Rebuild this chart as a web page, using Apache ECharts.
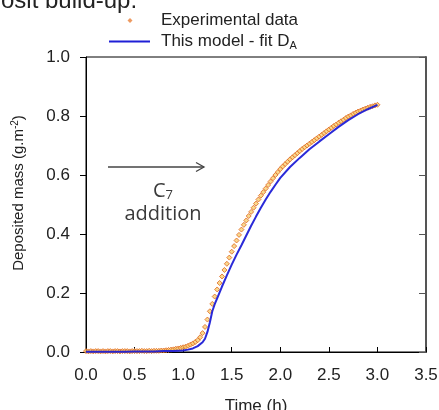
<!DOCTYPE html>
<html>
<head>
<meta charset="utf-8">
<script src="https://cdn.jsdelivr.net/npm/echarts@6/dist/echarts.min.js"></script>
<style>html,body{margin:0;padding:0;background:#fff}#c{width:439px;height:410px}</style>
</head>
<body>
<div id="c"></div>
<script>
// Experimental data: time (h) and deposited mass (g.m-2)
var expTime = [
  0.000,0.025,0.050,0.075,0.100,0.125,0.150,0.175,0.200,0.225,
  0.250,0.275,0.300,0.325,0.350,0.375,0.400,0.425,0.450,0.475,
  0.500,0.525,0.550,0.575,0.600,0.625,0.650,0.675,0.700,0.725,
  0.750,0.775,0.800,0.825,0.850,0.875,0.900,0.925,0.950,0.975,
  1.000,1.025,1.050,1.075,1.100,1.125,1.150,1.175,1.200,1.225,
  1.250,1.275,1.300,1.325,1.350,1.375,1.400,1.425,1.450,1.475,
  1.500,1.525,1.550,1.575,1.600,1.625,1.650,1.675,1.700,1.725,
  1.750,1.775,1.800,1.825,1.850,1.875,1.900,1.925,1.950,1.975,
  2.000,2.025,2.050,2.075,2.100,2.125,2.150,2.175,2.200,2.225,
  2.250,2.275,2.300,2.325,2.350,2.375,2.400,2.425,2.450,2.475,
  2.500,2.525,2.550,2.575,2.600,2.625,2.650,2.675,2.700,2.725,
  2.750,2.775,2.800,2.825,2.850,2.875,2.900,2.925,2.950,2.975,
  3.000
];
var expMass = [
  0.003,0.002,0.003,0.002,0.003,0.003,0.002,0.003,0.002,0.003,
  0.003,0.002,0.003,0.003,0.002,0.003,0.003,0.003,0.002,0.003,
  0.003,0.003,0.003,0.004,0.003,0.003,0.004,0.003,0.004,0.004,
  0.004,0.005,0.005,0.006,0.007,0.008,0.009,0.011,0.012,0.014,
  0.016,0.018,0.021,0.025,0.029,0.034,0.040,0.050,0.064,0.085,
  0.110,0.138,0.163,0.188,0.212,0.234,0.256,0.278,0.299,0.320,
  0.340,0.359,0.378,0.397,0.415,0.431,0.446,0.461,0.475,0.489,
  0.503,0.517,0.530,0.542,0.554,0.566,0.578,0.589,0.600,0.610,
  0.620,0.629,0.637,0.645,0.653,0.660,0.667,0.674,0.681,0.688,
  0.694,0.700,0.706,0.712,0.718,0.724,0.730,0.736,0.742,0.748,
  0.754,0.760,0.766,0.771,0.777,0.782,0.787,0.793,0.798,0.802,
  0.807,0.811,0.815,0.818,0.822,0.825,0.828,0.831,0.833,0.836,
  0.838
];
// Model fit D_A
var modelTime = [0,0.1,0.2,0.3,0.4,0.5,0.6,0.7,0.8,0.9,
  0.95,1.0,1.05,1.1,1.15,1.2,
  1.225,1.25,1.275,1.3,1.325,1.35,
  1.4,1.45,1.5,1.55,1.6,1.65,1.7,1.75,1.8,1.85,1.9,1.95,2.0,
  2.1,2.2,2.3,2.4,2.5,2.6,2.7,2.8,2.9,3.0];
var modelMass = [0.001,0.001,0.001,0.001,0.001,0.002,0.002,0.002,0.003,0.003,
  0.004,0.005,0.008,0.012,0.020,0.033,
  0.045,0.068,0.100,0.138,0.162,0.182,
  0.222,0.260,0.296,0.330,0.362,0.395,0.428,0.459,0.489,0.517,0.543,0.567,0.590,
  0.627,0.658,0.687,0.713,0.738,0.763,0.786,0.806,0.823,0.838];

var seriesNames = ['Experimental data', 'This model - fit D_A'];
var xAxisTitle = 'Time (h)';
var yAxisTitle = 'Deposited mass (g.m';
var topText = 'osit build-up.';

var expData = expTime.map(function (t, i) { return [t, expMass[i]]; });
var modelData = modelTime.map(function (t, i) { return [t, modelMass[i]]; });

var chart = echarts.init(document.getElementById('c'), null, {renderer: 'canvas'});
var FONT = 'Arial, "Liberation Sans", sans-serif';
var legendRich = {
  a: {fontSize: 17, color: '#222', fontFamily: FONT, lineHeight: 17},
  sub: {fontSize: 11, color: '#222', fontFamily: FONT, padding: [9, 0, 0, 0], lineHeight: 17}
};
chart.setOption({
  animation: false,
  backgroundColor: '#fff',
  textStyle: {fontFamily: FONT},
  grid: {left: 86, right: 13, top: 57, bottom: 58, show: true, borderColor: '#000', borderWidth: 1,
         containLabel: false, outerBoundsMode: 'none'},
  legend: [{
    padding: 0, left: 127.5, top: 12,
    itemWidth: 5, itemHeight: 5,
    data: [{name: seriesNames[0], icon: 'diamond', itemStyle: {color: '#e8813a', borderWidth: 0}}],
    formatter: function (n) { return '{a|' + n + '}'; },
    textStyle: {padding: [0, 0, 0, 23.5], rich: legendRich}
  }, {
    padding: 0, left: 109, top: 31.5,
    itemWidth: 41, itemHeight: 2,
    data: [{name: seriesNames[1], icon: 'rect', itemStyle: {color: '#1f1fd6'}}],
    formatter: function () { return '{a|This model - fit D}{sub|A}'; },
    textStyle: {padding: [0, 0, 0, 6], rich: legendRich}
  }],
  xAxis: {
    type: 'value', min: 0, max: 3.5, interval: 0.5,
    name: xAxisTitle, nameLocation: 'middle', nameGap: 46,
    nameTextStyle: {fontSize: 17, color: '#222', fontFamily: FONT},
    axisLine: {show: true, lineStyle: {color: '#000', width: 1}},
    axisTick: {show: true, inside: true, length: 5, lineStyle: {color: '#000'}},
    axisLabel: {fontSize: 17, color: '#222', margin: 15, formatter: function (v) { return v.toFixed(1); }},
    splitLine: {show: false}
  },
  yAxis: [{
    type: 'value', min: 0, max: 1, interval: 0.2,
    axisLine: {show: true, lineStyle: {color: '#000', width: 1}},
    axisTick: {show: true, inside: false, length: 6, lineStyle: {color: '#000'}},
    axisLabel: {fontSize: 17, color: '#222', margin: 16, formatter: function (v) { return v.toFixed(1); }},
    splitLine: {show: false}
  }, {
    type: 'value', min: 0, max: 1, interval: 0.2, position: 'right',
    axisLine: {show: true, lineStyle: {color: '#555', width: 2}},
    axisTick: {show: true, inside: true, length: 7, lineStyle: {color: '#555'}},
    axisLabel: {show: false},
    splitLine: {show: false}
  }],
  series: [{
    name: seriesNames[0], type: 'scatter', data: expData,
    symbol: 'diamond', symbolSize: 5,
    itemStyle: {color: '#f8d070', borderColor: '#e0651e', borderWidth: 1},
    z: 2
  }, {
    name: seriesNames[1], type: 'line', data: modelData,
    showSymbol: false, symbol: 'none', smooth: false,
    lineStyle: {color: '#1f1fd6', width: 2, opacity: 0.95},
    itemStyle: {color: '#1f1fd6'},
    z: 3
  }],
  graphic: [
    {type: 'text', left: 1, top: -11, style: {text: topText, font: '24px Arial, "Liberation Sans", sans-serif', fill: '#222'}},
    {type: 'text', x: 19, y: 193, rotation: Math.PI / 2, style: {
      text: '{a|' + yAxisTitle + '}{sup|-2}{a|)}', align: 'center', verticalAlign: 'middle',
      rich: {
        a: {fontSize: 15, fill: '#222', fontFamily: FONT, lineHeight: 18},
        sup: {fontSize: 10, fill: '#222', fontFamily: FONT, lineHeight: 18, padding: [0, 0, 8, 0]}
      }
    }},
    {type: 'line', shape: {x1: 108, y1: 167, x2: 204, y2: 167}, style: {stroke: '#444', lineWidth: 1.3}},
    {type: 'polyline', shape: {points: [[196, 162.5], [204, 167], [196, 171.5]]}, style: {stroke: '#444', lineWidth: 1.3, fill: null}},
    {type: 'text', x: 163, y: 191, style: {
      text: '{c|C}{s|7}', align: 'center', verticalAlign: 'middle',
      rich: {c: {fontSize: 20, fontFamily: '"Open Sans", sans-serif', fill: '#3a3a3a', lineHeight: 22},
             s: {fontSize: 13, fontFamily: '"Open Sans", sans-serif', fill: '#3a3a3a', lineHeight: 22, padding: [8, 0, 0, 0]}}
    }},
    {type: 'text', x: 163, y: 214, style: {text: 'addition', align: 'center', verticalAlign: 'middle', font: '20px "Open Sans", sans-serif', fill: '#3a3a3a'}}
  ]
});
</script>
</body>
</html>
